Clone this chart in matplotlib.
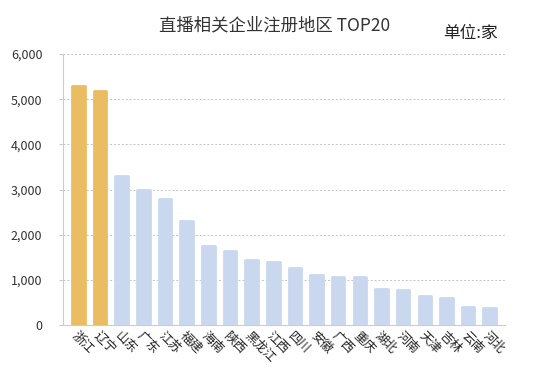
import matplotlib.pyplot as plt
import numpy as np

plt.rcParams['font.family'] = ['Noto Sans CJK SC', 'DejaVu Sans']

# data
regions = ['浙江', '辽宁', '山东', '广东', '江苏', '福建', '海南', '陕西', '黑龙江', '江西',
           '四川', '安徽', '广西', '重庆', '湖北', '河南', '天津', '吉林', '云南', '河北']
counts = [5290, 5180, 3310, 2980, 2790, 2310, 1760, 1630, 1450, 1400,
          1260, 1100, 1060, 1060, 790, 770, 650, 600, 410, 370]
highlight = ['浙江', '辽宁']

gold = '#EBBD62'
blue = '#C9D8EF'
colors = [gold if r in highlight else blue for r in regions]

fig = plt.figure(figsize=(5.5, 3.75), dpi=100)
ax = fig.add_axes([0.115, 0.133, 0.803, 0.723])

x = np.arange(len(regions))
ax.bar(x, counts, width=0.58, color=colors, edgecolor=colors, linewidth=2,
       joinstyle='round', zorder=3)

ax.set_ylim(0, 6000)
ax.set_xlim(-0.7, len(regions) - 0.3)
ax.set_yticks(np.arange(0, 6001, 1000))
ax.set_yticklabels([f'{v:,}' for v in range(0, 6001, 1000)], fontsize=9, color='#333333')
ax.yaxis.grid(True, linestyle=(0, (2, 2)), color='#C4C4C4', linewidth=0.7, zorder=0)
ax.tick_params(axis='y', length=3, color='#CCCCCC', pad=12)
ax.tick_params(axis='x', length=0, pad=3)

ax.set_xticks(x)
ax.set_xticklabels(regions, rotation=-45, ha='left', va='top',
                   rotation_mode='anchor', fontsize=9, color='#222222')

for s in ['top', 'right']:
    ax.spines[s].set_visible(False)
ax.spines['left'].set_color('#CCCCCC')
ax.spines['bottom'].set_color('#CCCCCC')

fig.text(0.5, 0.933, '直播相关企业注册地区 TOP20', ha='center', va='center',
         fontsize=12.5, color='#333333')
fig.text(0.855, 0.912, '单位:家', ha='center', va='center', fontsize=12, color='#222222')

plt.savefig('out.png', dpi=100)
